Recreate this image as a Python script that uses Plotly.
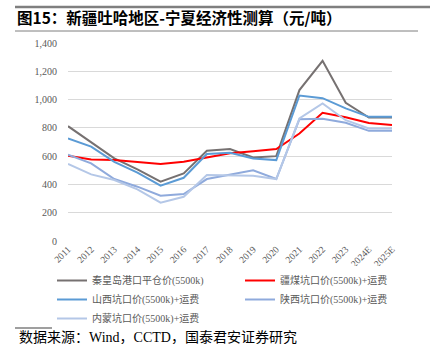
import plotly.graph_objects as go

years = ["2011", "2012", "2013", "2014", "2015", "2016", "2017", "2018",
         "2019", "2020", "2021", "2022", "2023", "2024E", "2025E"]

qhd = [812, 700, 584, 507, 419, 478, 638, 650, 591, 600, 1067, 1274, 977, 873, 873]
xinjiang = [603, 577, 572, 560, 544, 560, 591, 620, 635, 650, 760, 906, 875, 835, 820]
shanxi = [726, 667, 560, 483, 391, 447, 615, 624, 584, 572, 1029, 1010, 938, 878, 878]
shaanxi = [610, 549, 438, 384, 320, 332, 438, 471, 500, 438, 861, 864, 836, 779, 779]
neimeng = [545, 471, 431, 365, 271, 313, 466, 461, 461, 438, 866, 972, 854, 795, 795]

names = ["秦皇岛港口平仓价(5500k)", "疆煤坑口价(5500k)+运费", "山西坑口价(5500k)+运费",
         "陕西坑口价(5500k)+运费", "内蒙坑口价(5500k)+运费"]
colors = ["#767171", "#FF0000", "#5B9BD5", "#8FAADC", "#B4C7E7"]
series = [qhd, xinjiang, shanxi, shaanxi, neimeng]

W, H = 432, 344
ML, MR, MT, MB = 68, 40, 43, 103


def px_to_paper_x(px):
    return (px - ML) / (W - ML - MR)


def px_to_paper_y(py):
    return (H - MB - py) / (H - MT - MB)


fig = go.Figure()
for name, col, vals in zip(names, colors, series):
    fig.add_trace(go.Scatter(x=years, y=vals, mode="lines", name=name,
                             line=dict(color=col, width=2)))

serif = "Liberation Serif, Noto Sans CJK SC, serif"
fig.update_layout(
    width=W, height=H,
    margin=dict(l=ML, r=MR, t=MT, b=MB, pad=0, autoexpand=False),
    paper_bgcolor="white", plot_bgcolor="white",
    font=dict(family=serif, color="#595959", size=10),
    showlegend=True,
    title=dict(text="<b>图15：新疆吐哈地区-宁夏经济性测算（元/吨）</b>",
               xref="container", yref="container", x=17 / W, y=1 - 19 / H,
               xanchor="left", yanchor="middle",
               font=dict(family="Noto Sans CJK SC", size=15.5, color="#000000")),
    legend=dict(orientation="h",
                x=px_to_paper_x(52), xanchor="left", y=px_to_paper_y(266), yanchor="top",
                entrywidth=143, entrywidthmode="pixels",
                font=dict(family="Liberation Serif, Noto Sans CJK SC", size=10, color="#595959"),
                tracegroupgap=0, itemwidth=30),
    xaxis=dict(type="category", tickangle=-45, showgrid=False, showline=False,
               ticks="", tickfont=dict(size=9.5, color="#595959"), fixedrange=True),
    yaxis=dict(range=[0, 1400], dtick=200, tickformat=",", showgrid=True,
               gridcolor="#D9D9D9", gridwidth=1, zeroline=False, showline=False,
               ticks="", ticklabelstandoff=10, tickfont=dict(size=10, color="#595959")),
)

fig.add_annotation(x=px_to_paper_x(17), y=px_to_paper_y(337), xref="paper", yref="paper",
                   text="数据来源：Wind，CCTD，国泰君安证券研究",
                   showarrow=False, xanchor="left", yanchor="middle",
                   font=dict(family="Liberation Serif, Noto Sans CJK SC", size=14, color="#000000"))

for y0, x0, x1, w in [(7, 15, 430, 2.5), (31, 15, 418, 1), (328, 15, 418, 1.5)]:
    fig.add_shape(type="line", xref="paper", yref="paper",
                  x0=px_to_paper_x(x0), x1=px_to_paper_x(x1),
                  y0=px_to_paper_y(y0), y1=px_to_paper_y(y0),
                  line=dict(color="#7F7F7F", width=w))

fig.write_html("out.html")
